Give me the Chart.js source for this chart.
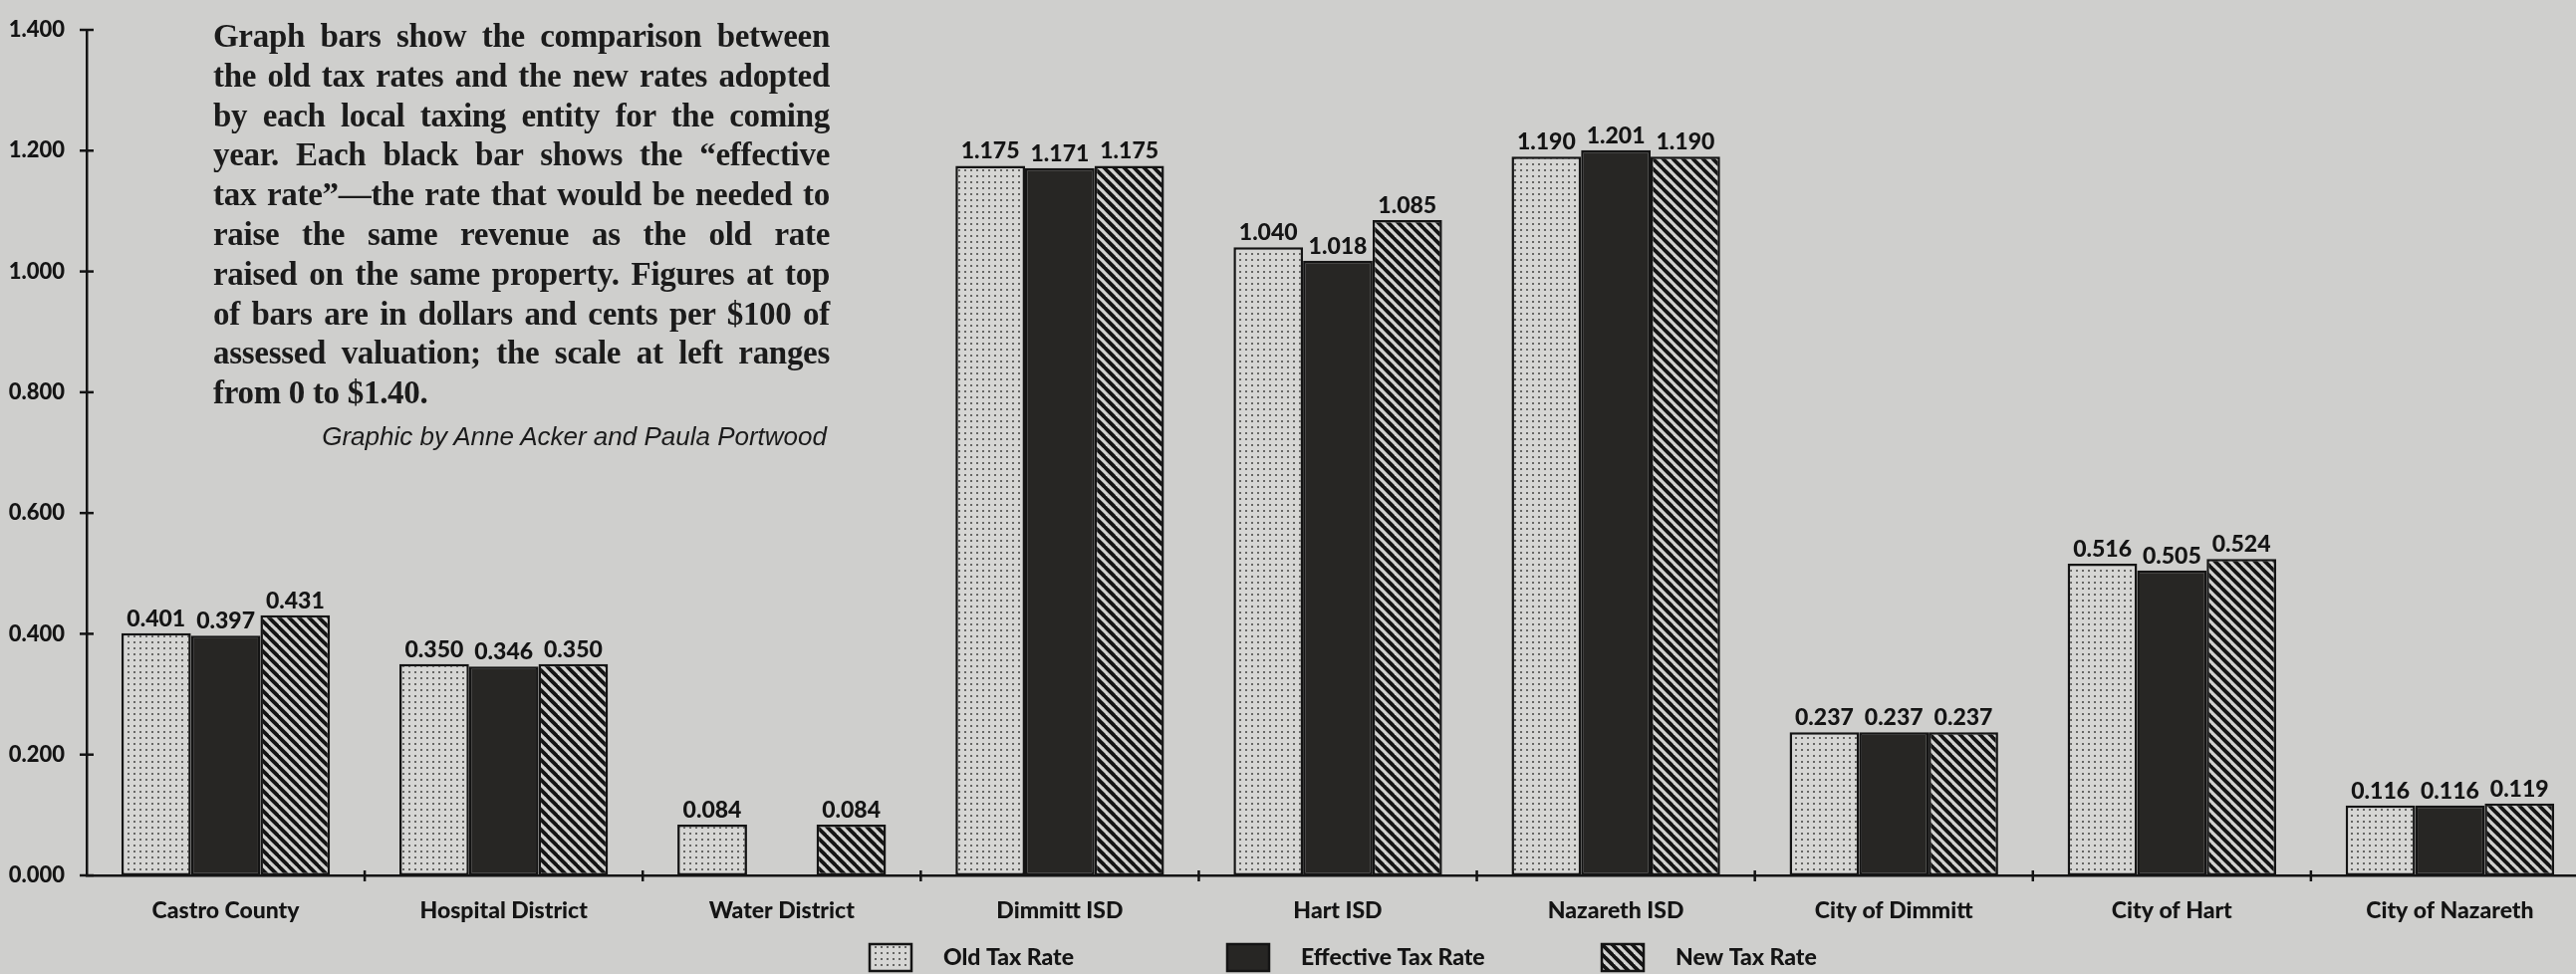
<!DOCTYPE html>
<html>
<head>
<meta charset="utf-8">
<script src="https://cdn.jsdelivr.net/npm/chart.js@4.4.1/dist/chart.umd.min.js"></script>
<style>
  html, body { margin: 0; padding: 0; background: #cfcfcd; overflow: hidden; }
  #wrap { position: relative; width: 2586px; height: 978px; overflow: hidden; }
  #chart { position: absolute; left: 0; top: 0; }
  #note {
    position: absolute; left: 214px; top: 17px; width: 619px;
    font-family: "Liberation Serif", "Times New Roman", serif; font-weight: bold;
    font-size: 33px; line-height: 39.8px; color: #1b1b1b; letter-spacing: -0.3px;
  }
  #note .j { text-align: justify; text-align-last: justify; white-space: nowrap; }
  #credit {
    position: absolute; left: 214px; top: 420px; width: 616px; text-align: right;
    font-family: "Liberation Sans", Arial, sans-serif; font-style: italic;
    font-size: 26px; line-height: 36px; color: #1b1b1b;
  }
</style>
</head>
<body>
<div id="wrap">
  <canvas id="chart" width="2600" height="978"></canvas>
  <div id="note">
    <div class="j">Graph bars show the comparison between</div>
    <div class="j">the old tax rates and the new rates adopted</div>
    <div class="j">by each local taxing entity for the coming</div>
    <div class="j">year. Each black bar shows the “effective</div>
    <div class="j">tax rate”—the rate that would be needed to</div>
    <div class="j">raise the same revenue as the old rate</div>
    <div class="j">raised on the same property. Figures at top</div>
    <div class="j">of bars are in dollars and cents per $100 of</div>
    <div class="j">assessed valuation; the scale at left ranges</div>
    <div>from 0 to $1.40.</div>
  </div>
  <div id="credit">Graphic by Anne Acker and Paula Portwood</div>
</div>
<script>
// ── Data ────────────────────────────────────────────────────────────────
const categories = ['Castro County', 'Hospital District', 'Water District', 'Dimmitt ISD',
  'Hart ISD', 'Nazareth ISD', 'City of Dimmitt', 'City of Hart', 'City of Nazareth'];
const oldRate       = [0.401, 0.350, 0.084, 1.175, 1.040, 1.190, 0.237, 0.516, 0.116];
const effectiveRate = [0.397, 0.346, null,  1.171, 1.018, 1.201, 0.237, 0.505, 0.116];
const newRate       = [0.431, 0.350, 0.084, 1.175, 1.085, 1.190, 0.237, 0.524, 0.119];
const seriesNames   = ['Old Tax Rate', 'Effective Tax Rate', 'New Tax Rate'];
const yTicks        = [0, 0.2, 0.4, 0.6, 0.8, 1.0, 1.2, 1.4];

const INK = '#141414';
const LABEL_FONT = "'Lato', 'Open Sans', sans-serif";

// ── Fill patterns ───────────────────────────────────────────────────────
function dotPattern() {
  const c = document.createElement('canvas');
  c.width = 6; c.height = 6;
  const g = c.getContext('2d');
  g.fillStyle = '#d6d6d4';
  g.fillRect(0, 0, 6, 6);
  g.fillStyle = '#666664';
  g.fillRect(2, 2, 2, 2);
  return g.createPattern(c, 'repeat');
}

function stripePattern() {
  const c = document.createElement('canvas');
  c.width = 10; c.height = 10;
  const g = c.getContext('2d');
  g.fillStyle = '#d2d2d0';
  g.fillRect(0, 0, 10, 10);
  g.strokeStyle = INK;
  g.lineWidth = 3.8;
  [-10, 0, 10].forEach(o => {
    g.beginPath();
    g.moveTo(o - 1, -1);
    g.lineTo(o + 11, 11);
    g.stroke();
  });
  return g.createPattern(c, 'repeat');
}

const fills = [dotPattern(), '#272624', stripePattern()];

// ── Plugins ─────────────────────────────────────────────────────────────
const axisTicks = {
  id: 'axisTicks',
  afterDraw(chart) {
    const { ctx, scales: { x, y } } = chart;
    ctx.save();
    ctx.strokeStyle = INK;
    ctx.lineWidth = 2.5;
    yTicks.forEach(v => {
      const py = y.getPixelForValue(v);
      ctx.beginPath();
      ctx.moveTo(x.left - 7, py);
      ctx.lineTo(x.left + 7, py);
      ctx.stroke();
    });
    for (let i = 0; i < categories.length - 1; i++) {
      const px = (x.getPixelForValue(i) + x.getPixelForValue(i + 1)) / 2;
      ctx.beginPath();
      ctx.moveTo(px, y.bottom - 5);
      ctx.lineTo(px, y.bottom + 6);
      ctx.stroke();
    }
    ctx.restore();
  },
};

const valueLabels = {
  id: 'valueLabels',
  afterDatasetsDraw(chart) {
    const { ctx } = chart;
    ctx.save();
    ctx.font = `900 23px ${LABEL_FONT}`;
    ctx.fillStyle = INK;
    ctx.textAlign = 'center';
    ctx.textBaseline = 'alphabetic';
    chart.data.datasets.forEach((ds, di) => {
      chart.getDatasetMeta(di).data.forEach((bar, i) => {
        const v = ds.data[i];
        if (v == null) return;
        ctx.fillText(v.toFixed(3), bar.x, bar.y - 7);
      });
    });
    ctx.restore();
  },
};

const patternLegend = {
  id: 'patternLegend',
  afterDraw(chart, args, opts) {
    const { ctx } = chart;
    ctx.save();
    ctx.font = `900 23px ${LABEL_FONT}`;
    ctx.textBaseline = 'middle';
    ctx.textAlign = 'left';
    chart.data.datasets.forEach((ds, i) => {
      const bx = opts.x[i];
      ctx.fillStyle = ds.backgroundColor;
      ctx.fillRect(bx, opts.top, opts.boxW, opts.boxH);
      ctx.strokeStyle = INK;
      ctx.lineWidth = 2.5;
      ctx.strokeRect(bx, opts.top, opts.boxW, opts.boxH);
      ctx.fillStyle = INK;
      ctx.fillText(ds.label, bx + opts.boxW + 32, opts.top + opts.boxH / 2);
    });
    ctx.restore();
  },
};

// ── Chart ───────────────────────────────────────────────────────────────
new Chart(document.getElementById('chart'), {
  type: 'bar',
  data: {
    labels: categories,
    datasets: [oldRate, effectiveRate, newRate].map((data, i) => ({
      label: seriesNames[i],
      data,
      backgroundColor: fills[i],
      borderColor: INK,
      borderWidth: 2.5,
      borderSkipped: false,
      categoryPercentage: 0.75,
      barPercentage: 1.0,
    })),
  },
  options: {
    responsive: false,
    animation: false,
    devicePixelRatio: 1,
    layout: { padding: { left: 0, right: 1, top: 30, bottom: 0 } },
    plugins: {
      legend: { display: false },
      tooltip: { enabled: false },
      patternLegend: { x: [873, 1232, 1608], top: 948, boxW: 42, boxH: 27 },
    },
    scales: {
      y: {
        min: 0, max: 1.4,
        afterBuildTicks: s => { s.ticks = yTicks.map(v => ({ value: v })); },
        afterFit: s => { s.width = 87; },
        ticks: {
          callback: v => Number(v).toFixed(3),
          font: { family: LABEL_FONT, weight: '900', size: 22 },
          color: INK,
          padding: 14,
        },
        grid: { display: false },
        border: { color: INK, width: 2.5 },
      },
      x: {
        afterFit: s => { s.height = 99; },
        ticks: {
          font: { family: LABEL_FONT, weight: '900', size: 23 },
          color: INK,
          padding: 14,
          maxRotation: 0,
          autoSkip: false,
        },
        grid: { display: false },
        border: { color: INK, width: 2.5 },
      },
    },
  },
  plugins: [axisTicks, valueLabels, patternLegend],
});
</script>
</body>
</html>
